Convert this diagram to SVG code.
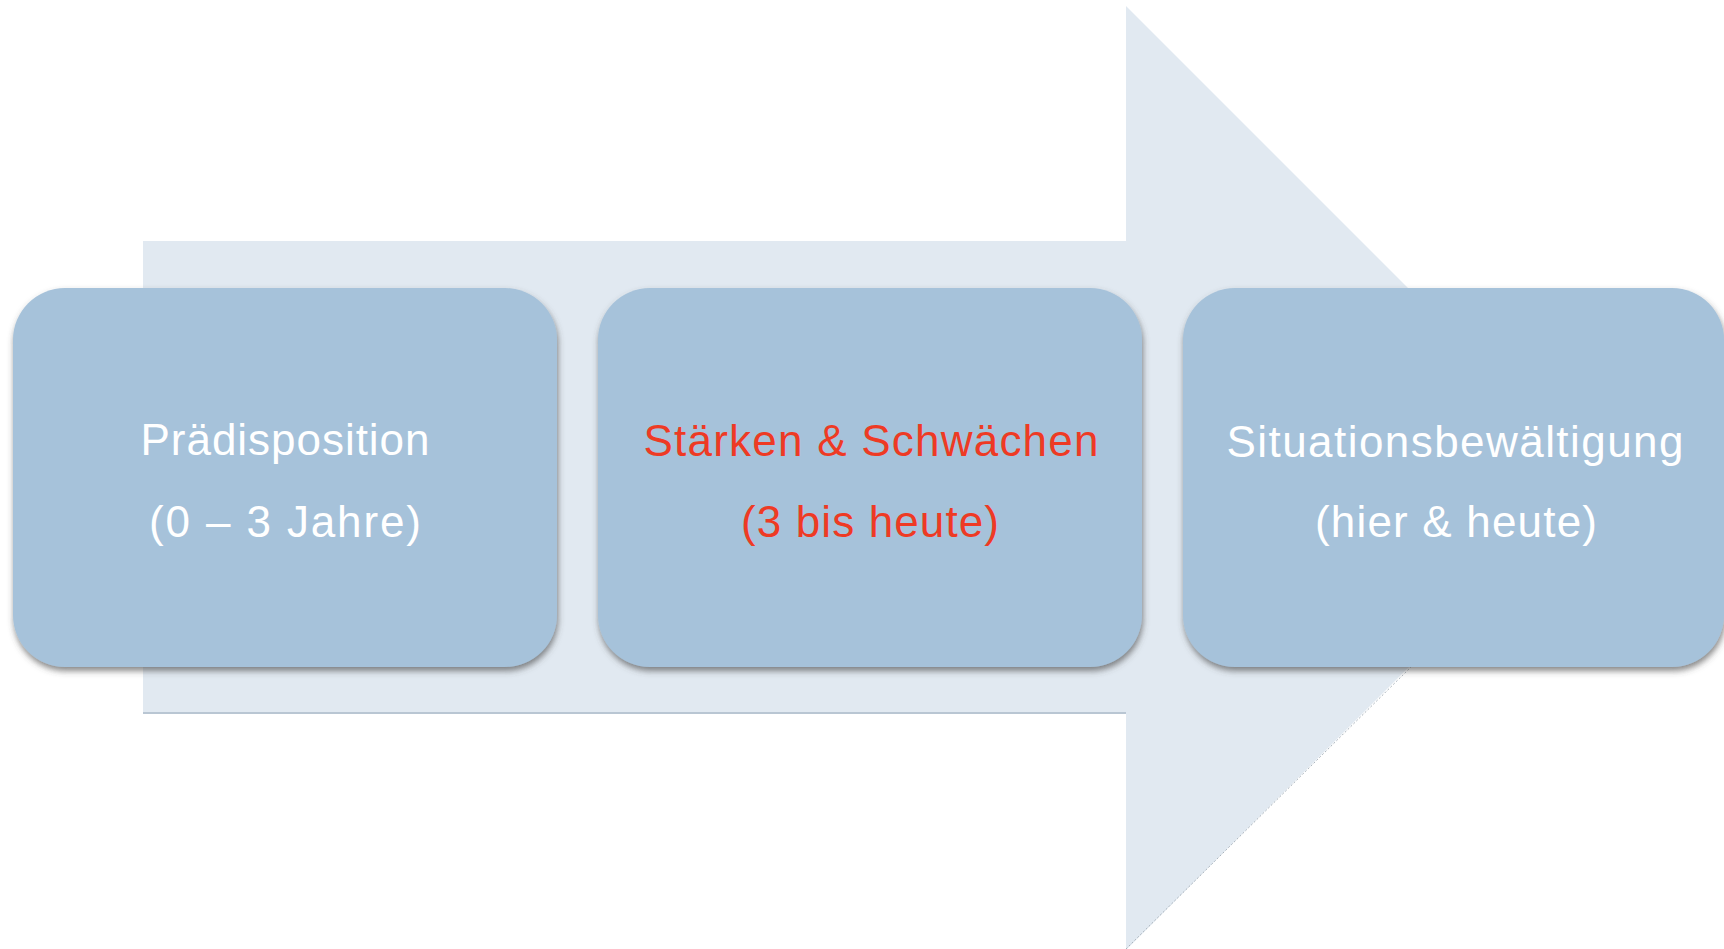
<svg xmlns="http://www.w3.org/2000/svg" width="1724" height="949" viewBox="0 0 1724 949">
  <style>
    .box { fill: #A6C2DA; filter: url(#shadow); }
    .lbl { font-family: "Liberation Sans", Arial, sans-serif; font-size: 44px; text-anchor: middle; fill: #FFFFFF; }
    .red { fill: #EE3A24; }
  </style>
  <defs>
    <filter id="shadow" x="-5%" y="-5%" width="112%" height="115%">
      <feDropShadow dx="1" dy="4" stdDeviation="3" flood-color="#4a4a4a" flood-opacity="0.65"/>
    </filter>
  </defs>
  <rect width="1724" height="949" fill="#FFFFFF"/>
  <g id="connectors">
    <path d="M143,241 H1126 V6 L1598,478 L1126,950 V713 H143 Z" fill="#E1E9F1"/>
    <line x1="143" y1="713" x2="1126" y2="713" stroke="#B9C6D3" stroke-width="2"/>
    <line x1="1126" y1="949" x2="1413" y2="665" stroke="#A9B3BC" stroke-width="1" stroke-dasharray="2,2"/>
  </g>
  <g id="node-praedisposition">
    <rect class="box" x="13" y="288" width="544" height="379" rx="52" ry="52"/>
    <text class="lbl" x="285" y="455" textLength="289">Prädisposition</text>
    <text class="lbl" x="285" y="537" textLength="272">(0 – 3 Jahre)</text>
  </g>
  <g id="node-staerken">
    <rect class="box" x="598" y="288" width="544" height="379" rx="52" ry="52"/>
    <text class="lbl red" x="871" y="456" textLength="455">Stärken &amp; Schwächen</text>
    <text class="lbl red" x="870" y="537" textLength="258">(3 bis heute)</text>
  </g>
  <g id="node-situation">
    <rect class="box" x="1183" y="288" width="541" height="379" rx="52" ry="52"/>
    <text class="lbl" x="1455" y="457" textLength="457">Situationsbewältigung</text>
    <text class="lbl" x="1456" y="537" textLength="282">(hier &amp; heute)</text>
  </g>
</svg>
